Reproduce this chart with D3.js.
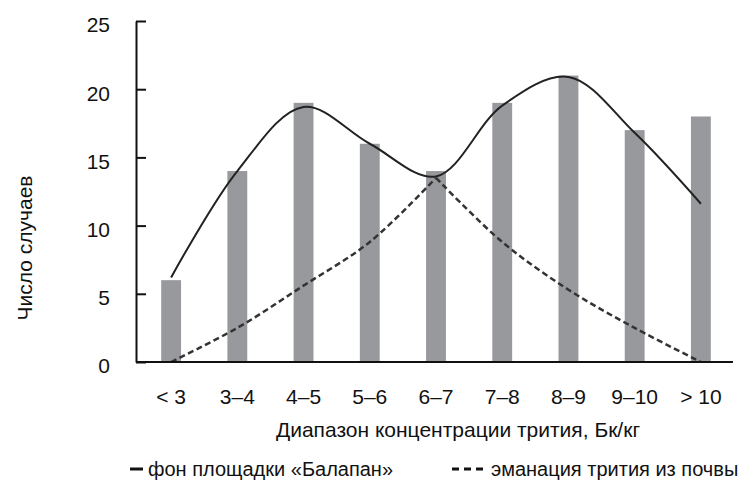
<!DOCTYPE html>
<html>
<head>
<meta charset="utf-8">
<script src="https://cdn.jsdelivr.net/npm/d3@7"></script>
<style>
  html, body { margin: 0; padding: 0; background: #fff; overflow: hidden; }
  svg { display: block; font-family: "Liberation Sans", Arial, sans-serif; }
  .tick text, .label { fill: #111; font-size: 21px; }
  .legend-label { fill: #111; font-size: 20px; }
</style>
</head>
<body>
<div id="chart"></div>
<script>
// Distribution of tritium concentration ranges: bars = number of cases,
// solid curve = "Balapan" site background, dashed = tritium emanation from soil.
const CATEGORIES = ['< 3', '3–4', '4–5', '5–6', '6–7', '7–8', '8–9', '9–10', '> 10'];
const CASES = [6, 14, 19, 16, 14, 19, 21, 17, 18];
const BACKGROUND_CURVE = [6.2, 14, 18.7, 16, 13.6, 18.8, 20.9, 16.8, 11.6];
const EMANATION_CURVE = [0, 2.5, 5.6, 8.8, 13.5, 8.8, 5.3, 2.5, 0];
const Y_TICKS = [0, 5, 10, 15, 20, 25];

const Y_LABEL = 'Число случаев';
const X_LABEL = 'Диапазон концентрации трития, Бк/кг';
const LEGEND_SOLID = 'фон площадки «Балапан»';
const LEGEND_DASHED = 'эманация трития из почвы';

const width = 743;
const height = 482;
const margin = { top: 21, right: 10, bottom: 120, left: 136 };
const innerWidth = 597;
const innerHeight = height - margin.top - margin.bottom;

const svg = d3.select('#chart').append('svg').attr('width', width).attr('height', height);
const g = svg.append('g').attr('transform', `translate(${margin.left},${margin.top})`);

const x = d3.scaleBand().domain(CATEGORIES).range([2, innerWidth + 1]).paddingInner(0.7).paddingOuter(0.35);
const y = d3.scaleLinear().domain([0, 25]).range([innerHeight, 0]);
const cx = (i) => x(CATEGORIES[i]) + x.bandwidth() / 2;

g.selectAll('rect.bar')
  .data(CASES)
  .join('rect')
  .attr('class', 'bar')
  .attr('fill', '#98999d')
  .attr('x', (d, i) => x(CATEGORIES[i]))
  .attr('width', x.bandwidth())
  .attr('y', (d) => y(d))
  .attr('height', (d) => innerHeight - y(d));

const line = d3
  .line()
  .x((d) => cx(d.i))
  .y((d) => y(d.v))
  .curve(d3.curveCatmullRom.alpha(0.5));

const solidPts = BACKGROUND_CURVE.map((v, i) => ({ i, v }));
g.append('path')
  .datum(solidPts)
  .attr('fill', 'none')
  .attr('stroke', '#222')
  .attr('stroke-width', 2)
  .attr('d', line);

// dashed curve meets in a point at its peak, so draw each side on its own
const peak = EMANATION_CURVE.indexOf(d3.max(EMANATION_CURVE));
const dashPts = EMANATION_CURVE.map((v, i) => ({ i, v }));
[dashPts.slice(0, peak + 1), dashPts.slice(peak)].forEach((part) => {
  g.append('path')
    .datum(part)
    .attr('fill', 'none')
    .attr('stroke', '#333')
    .attr('stroke-width', 2.5)
    .attr('stroke-dasharray', '6,3.5')
    .attr('d', line);
});

// axes
const yAxis = g
  .append('g')
  .call(d3.axisLeft(y).tickValues(Y_TICKS).tickSizeInner(-10).tickSizeOuter(0).tickPadding(26));
yAxis.select('.domain').attr('stroke', '#111').attr('stroke-width', 2);
yAxis.selectAll('.tick line').attr('stroke', '#111').attr('stroke-width', 2);
yAxis.selectAll('.tick text').attr('dy', '0.52em').attr('font-family', null).attr('font-size', null);

const xAxis = g
  .append('g')
  .attr('transform', `translate(0,${innerHeight})`)
  .call(d3.axisBottom(x).tickSize(0).tickPadding(27));
xAxis.select('.domain').remove();
xAxis.selectAll('.tick text').attr('font-family', null).attr('font-size', null);

g.append('line')
  .attr('x1', 0)
  .attr('x2', innerWidth)
  .attr('y1', innerHeight)
  .attr('y2', innerHeight)
  .attr('stroke', '#111')
  .attr('stroke-width', 2);

// titles
svg.append('text')
  .attr('class', 'label')
  .attr('text-anchor', 'middle')
  .attr('transform', 'translate(32,248) rotate(-90)')
  .text(Y_LABEL);

svg.append('text')
  .attr('class', 'label')
  .attr('text-anchor', 'middle')
  .attr('x', 458)
  .attr('y', 437)
  .text(X_LABEL);

// legend
const legendY = 469;
svg.append('line')
  .attr('x1', 130).attr('x2', 143)
  .attr('y1', legendY).attr('y2', legendY)
  .attr('stroke', '#111').attr('stroke-width', 3);
svg.append('text').attr('class', 'legend-label').attr('x', 148).attr('y', legendY + 7).text(LEGEND_SOLID);

svg.append('line')
  .attr('x1', 452).attr('x2', 483)
  .attr('y1', legendY).attr('y2', legendY)
  .attr('stroke', '#111').attr('stroke-width', 3)
  .attr('stroke-dasharray', '7,5');
svg.append('text').attr('class', 'legend-label').attr('x', 491).attr('y', legendY + 7).text(LEGEND_DASHED);
</script>
</body>
</html>
